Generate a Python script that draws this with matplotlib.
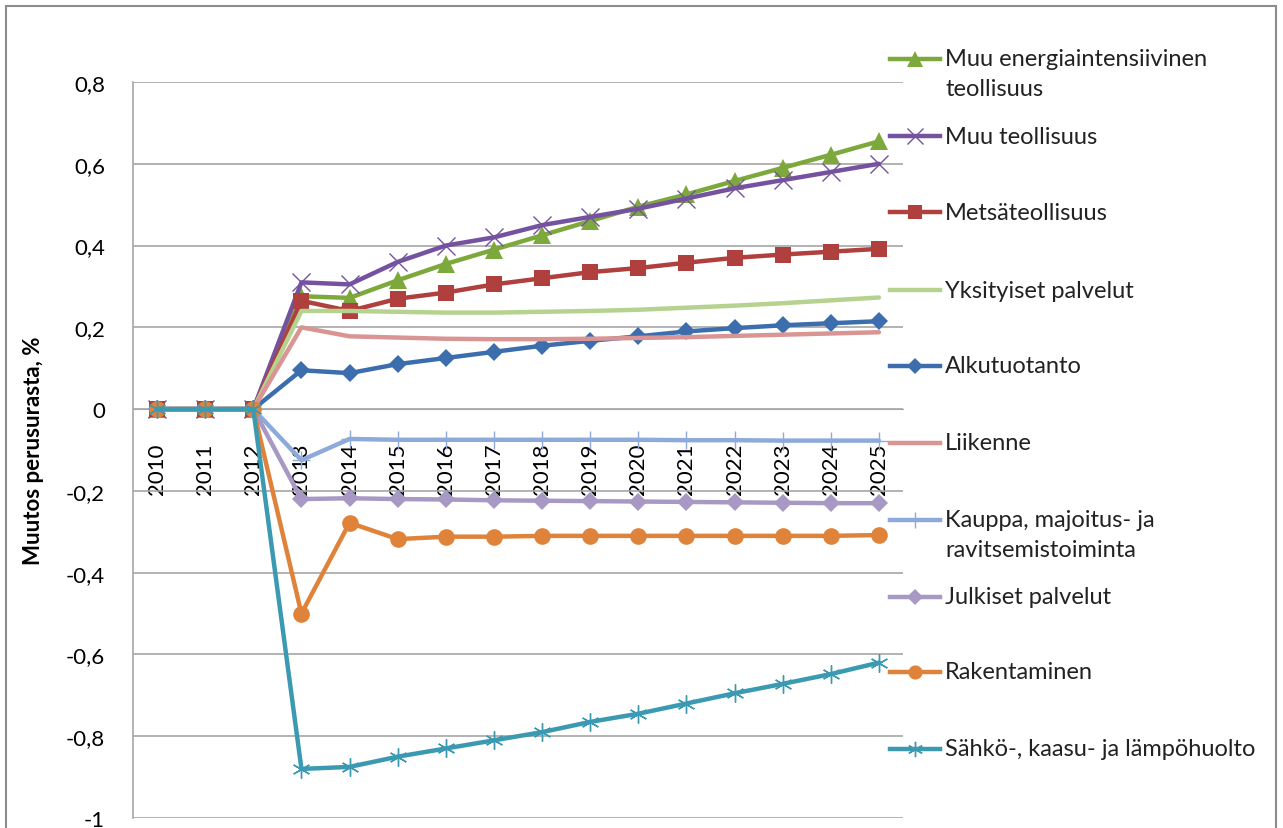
import numpy as np
import matplotlib.pyplot as plt
from matplotlib.lines import Line2D
from matplotlib.patches import Rectangle
from matplotlib.ticker import FuncFormatter

plt.rcParams['font.family'] = ['Lato', 'DejaVu Sans']

years = [str(y) for y in range(2010, 2026)]

muu_energia = [0, 0, 0, 0.276, 0.272, 0.315, 0.355, 0.39, 0.425, 0.46, 0.495, 0.525, 0.558, 0.59, 0.622, 0.655]
muu_teoll = [0, 0, 0, 0.31, 0.305, 0.36, 0.40, 0.42, 0.45, 0.47, 0.49, 0.515, 0.54, 0.56, 0.58, 0.60]
metsa = [0, 0, 0, 0.265, 0.24, 0.27, 0.285, 0.305, 0.32, 0.335, 0.345, 0.358, 0.37, 0.378, 0.385, 0.392]
yksityiset = [0, 0, 0, 0.24, 0.24, 0.238, 0.236, 0.236, 0.238, 0.24, 0.243, 0.248, 0.253, 0.259, 0.266, 0.273]
alkutuotanto = [0, 0, 0, 0.095, 0.088, 0.11, 0.125, 0.14, 0.155, 0.167, 0.178, 0.19, 0.198, 0.205, 0.21, 0.215]
liikenne = [0, 0, 0, 0.2, 0.178, 0.175, 0.172, 0.171, 0.171, 0.172, 0.174, 0.176, 0.179, 0.182, 0.185, 0.188]
kauppa = [0, 0, 0, -0.125, -0.073, -0.075, -0.075, -0.075, -0.075, -0.075, -0.075, -0.076, -0.076, -0.077, -0.077, -0.077]
julkiset = [0, 0, 0, -0.22, -0.218, -0.22, -0.221, -0.223, -0.224, -0.225, -0.226, -0.227, -0.228, -0.229, -0.23, -0.23]
rakentaminen = [0, 0, 0, -0.5, -0.278, -0.318, -0.312, -0.312, -0.31, -0.31, -0.31, -0.31, -0.31, -0.31, -0.31, -0.308]
sahko = [0, 0, 0, -0.88, -0.875, -0.85, -0.83, -0.81, -0.79, -0.765, -0.745, -0.72, -0.695, -0.672, -0.648, -0.62]

series = [
    ("Muu energiaintensiivinen\nteollisuus", muu_energia, '#7DA83B', '^', 13),
    ("Muu teollisuus", muu_teoll, '#7452A0', 'x', 13),
    ("Metsäteollisuus", metsa, '#B0403D', 's', 12),
    ("Yksityiset palvelut", yksityiset, '#B5D38E', None, 0),
    ("Alkutuotanto", alkutuotanto, '#3C6EAE', 'D', 9),
    ("Liikenne", liikenne, '#D99594', None, 0),
    ("Kauppa, majoitus- ja\nravitsemistoiminta", kauppa, '#8DAADB', '+', 13),
    ("Julkiset palvelut", julkiset, '#A898C4', 'D', 9),
    ("Rakentaminen", rakentaminen, '#E0833A', 'o', 12),
    ("Sähkö-, kaasu- ja lämpöhuolto", sahko, '#3B9AB2', (6, 2, 0), 13),
]
thin_markers = ('x', '+', (6, 2, 0))

fig = plt.figure(figsize=(12.83, 8.29), dpi=100)
ax = fig.add_axes([133/1283, 1 - 819/829, (903 - 133)/1283, (819 - 83)/829])

# category axis crosses at zero (set before tick labels, it resets ticks)
ax.spines['bottom'].set_position(('data', 0))

x = np.arange(len(years))
for name, vals, col, mk, ms in series:
    thin = mk in thin_markers
    ax.plot(x, vals, color=col, lw=3.2, marker=mk, markersize=ms,
            markeredgewidth=1 if thin else 0, markeredgecolor=col,
            markerfacecolor=col, solid_capstyle='round', zorder=3)


def fmt(v, p):
    v = round(v, 1)
    if v == 0:
        return '0'
    return ('%g' % v).replace('.', ',')


ax.set_xlim(-0.5, len(years) - 0.5)
ax.set_ylim(-1, 0.8)
ax.set_yticks(np.arange(-1, 0.81, 0.2))
ax.yaxis.set_major_formatter(FuncFormatter(fmt))
ax.grid(axis='y', color='#A6A6A6', lw=1.2)
ax.set_axisbelow(True)
ax.set_xticks(x)
ax.set_xticklabels(years, rotation=90, fontsize=16, va='top', ha='center')
ax.tick_params(axis='x', length=0, pad=24)
ax.tick_params(axis='y', length=0, pad=20, labelsize=16)
ax.spines['bottom'].set_color('#A6A6A6')
for s in ['top', 'right']:
    ax.spines[s].set_visible(False)
ax.spines['left'].set_color('#A6A6A6')
ax.spines['left'].set_linewidth(1.2)
ax.set_ylabel('Muutos perusurasta, %', fontsize=16, fontweight='bold', labelpad=16)

# legend drawn at the right side
leg_y = [60, 137, 213, 291, 367, 444, 521, 598, 673, 750]
for (name, vals, col, mk, ms), py in zip(series, leg_y):
    yy = 1 - py/829
    thin = mk in thin_markers
    fig.add_artist(Line2D([890/1283, 940/1283], [yy, yy], transform=fig.transFigure,
                          color=col, lw=3.2))
    if mk is not None:
        fig.add_artist(Line2D([915/1283], [yy], transform=fig.transFigure, color=col,
                              marker=mk, markersize=ms * 0.85, markerfacecolor=col,
                              markeredgecolor=col, markeredgewidth=1 if thin else 0))
    if '\n' in name:
        fig.text(945/1283, yy + 11/829, name, fontsize=17, va='top', ha='left',
                 color='#222222', linespacing=1.55)
    else:
        fig.text(945/1283, yy, name, fontsize=17, va='center', ha='left', color='#222222')

fig.add_artist(Rectangle((6/1283, -0.05), 1270/1283, 1 - 7/829 + 0.05, transform=fig.transFigure,
                         fill=False, edgecolor='#8C8C8C', lw=1.5))

fig.savefig('out.png', dpi=100)
